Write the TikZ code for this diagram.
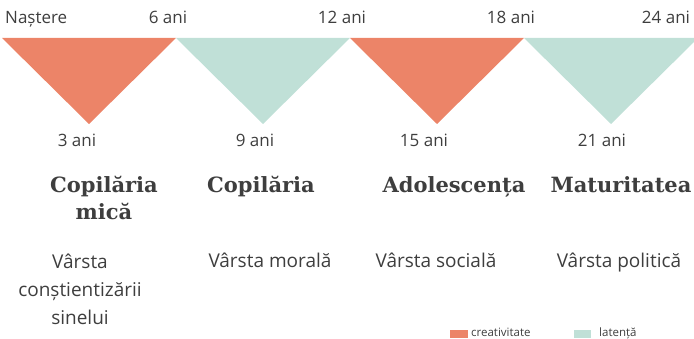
\documentclass[tikz,border=0pt]{standalone}
\usepackage{fontspec}
\setmainfont{Open Sans}
\newfontfamily\slabfont{DejaVu Serif}
\usepackage{tikz}

\definecolor{creativ}{RGB}{236,132,104}
\definecolor{latent}{RGB}{192,224,215}
\definecolor{textgri}{RGB}{62,62,62}

\begin{document}
\begin{tikzpicture}[
    every node/.style={text=textgri, inner sep=0pt},
    ani/.style={anchor=base, font=\fontsize{17}{20}\selectfont},
    etapa/.style={anchor=base, align=center, font=\slabfont\bfseries\fontsize{21}{27}\selectfont},
    descriere/.style={anchor=base, align=center, font=\fontsize{19}{28}\selectfont},
    legenda/.style={anchor=base west, font=\fontsize{11.5}{13}\selectfont}]
  \useasboundingbox (0pt,0pt) rectangle (694pt,-339pt);
  \filldraw[fill=creativ, draw=none] (2pt,-38pt) -- (176pt,-38pt) -- (89pt,-124pt) -- cycle;
  \filldraw[fill=latent, draw=none] (176pt,-38pt) -- (350pt,-38pt) -- (263pt,-124pt) -- cycle;
  \filldraw[fill=creativ, draw=none] (350pt,-38pt) -- (524pt,-38pt) -- (437pt,-124pt) -- cycle;
  \filldraw[fill=latent, draw=none] (524pt,-38pt) -- (694pt,-38pt) -- (694pt,-42pt) -- (611pt,-124pt) -- cycle;
  \node[ani, anchor=base west] (nastere) at (5pt,-24pt) {Naștere};
  \node[ani] (ani6) at (168pt,-24pt) {6 ani};
  \node[ani] (ani12) at (342pt,-24pt) {12 ani};
  \node[ani] (ani18) at (511pt,-24pt) {18 ani};
  \node[ani] (ani24) at (666pt,-24pt) {24 ani};
  \node[ani] (ani3) at (77pt,-147pt) {3 ani};
  \node[ani] (ani9) at (255pt,-147pt) {9 ani};
  \node[ani] (ani15) at (424pt,-147pt) {15 ani};
  \node[ani] (ani21) at (602pt,-147pt) {21 ani};
  \node[etapa] (copilmica) at (104pt,-220pt) {Copilăria\\mică};
  \node[etapa] (copil) at (261pt,-193pt) {Copilăria};
  \node[etapa] (adolesc) at (454pt,-193pt) {Adolescența};
  \node[etapa] (matur) at (621pt,-193pt) {Maturitatea};
  \node[descriere] (sine) at (80pt,-324pt) {Vârsta\\conștientizării\\sinelui};
  \node[descriere] (morala) at (270pt,-268pt) {Vârsta morală};
  \node[descriere] (sociala) at (436pt,-268pt) {Vârsta socială};
  \node[descriere] (politica) at (619pt,-268pt) {Vârsta politică};
  \filldraw[fill=creativ, draw=none] (450pt,-330pt) rectangle (468pt,-338pt);
  \node[legenda] (creativitate) at (471pt,-337pt) {creativitate};
  \filldraw[fill=latent, draw=none] (574pt,-330pt) rectangle (591pt,-338pt);
  \node[legenda] (latenta) at (599pt,-337pt) {latență};
\end{tikzpicture}
\end{document}
